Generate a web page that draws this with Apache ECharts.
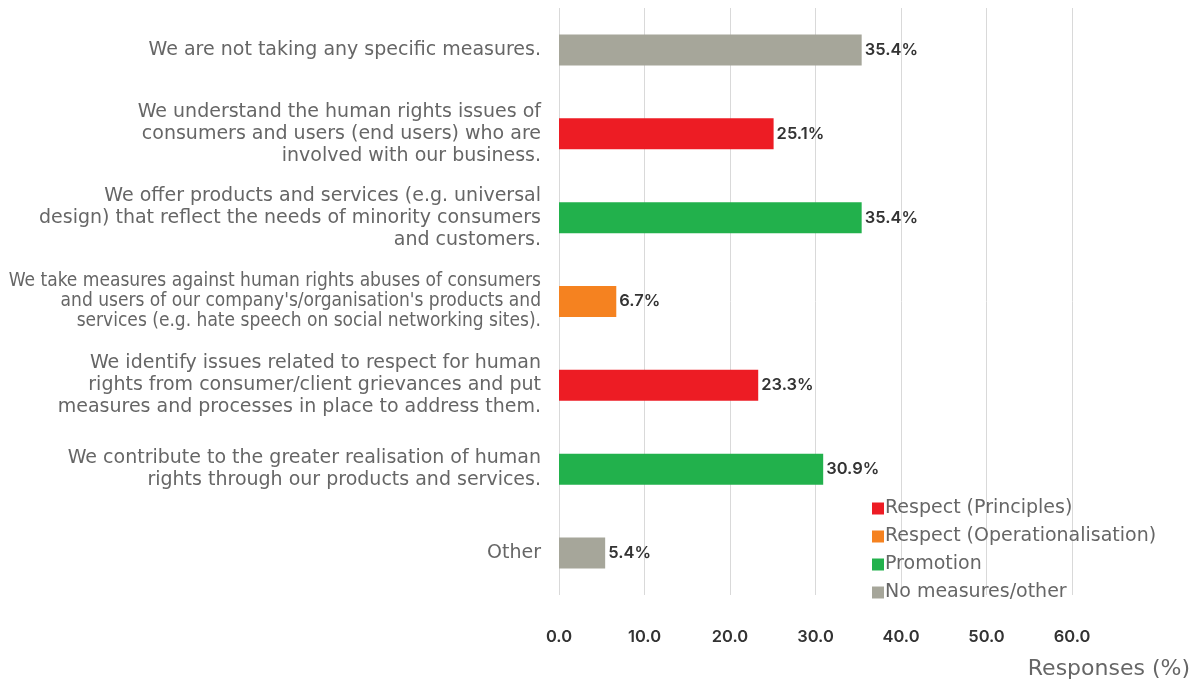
<!DOCTYPE html>
<html>
<head>
<meta charset="utf-8">
<script src="https://cdn.jsdelivr.net/npm/echarts@6/dist/echarts.min.js"></script>
<style>html,body{margin:0;padding:0;background:#fff}#c{width:1198px;height:682px}</style>
</head>
<body>
<div id="c"></div>
<script>
var categories = [
  "We are not taking any specific measures.",
  "We understand the human rights issues of\nconsumers and users (end users) who are\ninvolved with our business.",
  "We offer products and services (e.g. universal\ndesign) that reflect the needs of minority consumers\nand customers.",
  "We take measures against human rights abuses of consumers\nand users of our company's/organisation's products and\nservices (e.g. hate speech on social networking sites).",
  "We identify issues related to respect for human\nrights from consumer/client grievances and put\nmeasures and processes in place to address them.",
  "We contribute to the greater realisation of human\nrights through our products and services.",
  "Other"
];
var values = [35.4, 25.1, 35.4, 6.7, 23.3, 30.9, 5.4];
var groups = ["No measures/other", "Respect (Principles)", "Promotion", "Respect (Operationalisation)", "Respect (Principles)", "Promotion", "No measures/other"];
var seriesNames = ["Respect (Principles)", "Respect (Operationalisation)", "Promotion", "No measures/other"];
var seriesColors = ["#ED1C24", "#F58220", "#22B14C", "#A6A69A"];
var xTicks = [0, 10, 20, 30, 40, 50, 60];

var WIDE = "'DejaVu Sans', sans-serif";
var COND = "'DejaVu Sans Condensed', 'DejaVu Sans', sans-serif";
var NUM = "Inter, 'Noto Sans', sans-serif";
var series = seriesNames.map(function (name, si) {
  return {
    name: name,
    type: 'bar',
    stack: 'all',
    barWidth: 31,
    itemStyle: { color: seriesColors[si] },
    label: {
      show: true, position: 'right', distance: 3,
      fontFamily: NUM, fontSize: 16.5, fontWeight: 600, color: '#333',
      formatter: function (p) { return p.value.toFixed(1) + '%'; }
    },
    data: values.map(function (v, i) { return groups[i] === name ? v : '-'; })
  };
});

var chart = echarts.init(document.getElementById('c'));
chart.setOption({
  animation: false,
  textStyle: { fontFamily: WIDE },
  grid: { left: 559, right: 126, top: 8, bottom: 87, containLabel: false },
  title: {
    text: 'Responses (%)', right: 3, top: 653,
    textStyle: { fontFamily: WIDE, fontSize: 22, fontWeight: 'normal', color: '#666' }
  },
  legend: {
    orient: 'vertical', left: 867, top: 494,
    itemWidth: 12, itemHeight: 12, itemGap: 9,
    icon: 'rect',
    textStyle: { fontFamily: WIDE, fontSize: 19, color: '#666', padding: [0, 0, 0, -4] },
    data: seriesNames
  },
  xAxis: {
    type: 'value', min: xTicks[0], max: xTicks[xTicks.length - 1], interval: 10,
    axisLine: { show: false }, axisTick: { show: false },
    splitLine: { lineStyle: { color: '#D9D9D9', width: 1 } },
    axisLabel: {
      margin: 34, fontFamily: NUM, fontSize: 16.5, fontWeight: 600, color: '#333',
      formatter: function (v) { return v.toFixed(1); }
    }
  },
  yAxis: {
    type: 'category', inverse: true, data: categories,
    axisLine: { show: false }, axisTick: { show: false },
    axisLabel: {
      margin: 18, fontFamily: WIDE, fontSize: 19, lineHeight: 22, color: '#666', align: 'right',
      formatter: function (v, i) { return i === 3 ? '{s|' + v.split('\n').join('}\n{s|') + '}' : v; },
      rich: { s: { fontFamily: COND, fontSize: 19, lineHeight: 20, color: '#666', align: 'right' } }
    }
  },
  series: series
});
</script>
</body>
</html>
